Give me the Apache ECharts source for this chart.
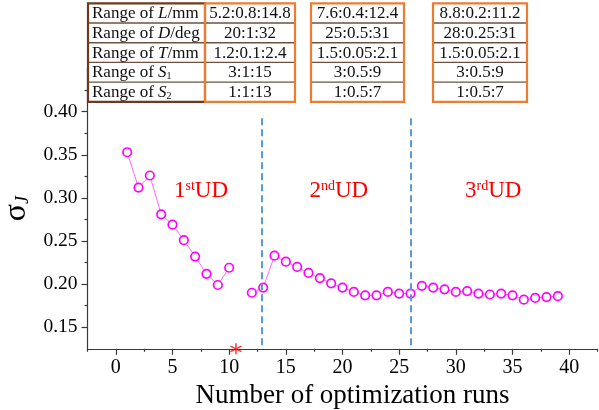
<!DOCTYPE html>
<html>
<head>
<meta charset="utf-8">
<script src="https://cdn.jsdelivr.net/npm/echarts/dist/echarts.min.js"></script>
<style>
  html, body { margin: 0; padding: 0; background: #fff; }
  #chart { width: 599px; height: 410px; }
</style>
</head>
<body>
<div id="chart"></div>
<script>
// optimization run index and sigma_J (run 11 has no point)
const runs = [1, 2, 3, 4, 5, 6, 7, 8, 9, 10,
  12, 13, 14, 15, 16, 17, 18, 19, 20, 21, 22, 23, 24, 25, 26,
  27, 28, 29, 30, 31, 32, 33, 34, 35, 36, 37, 38, 39];
const sigmaJ = [0.353, 0.312, 0.326, 0.281, 0.269, 0.251, 0.232, 0.212, 0.199, 0.219,
  0.190, 0.196, 0.233, 0.226, 0.220, 0.213, 0.207, 0.201, 0.196, 0.191, 0.187, 0.187, 0.191, 0.189, 0.189,
  0.198, 0.196, 0.194, 0.191, 0.192, 0.189, 0.188, 0.189, 0.187, 0.182, 0.184, 0.185, 0.186];

const starMark = [10.6, 0.125];
const dividers = [12.85, 26];
const dashRange = [0.129, 0.396];

const xTicks = [0, 5, 10, 15, 20, 25, 30, 35, 40];
const xMinorTicks = [-2.5, 2.5, 7.5, 12.5, 17.5, 22.5, 27.5, 32.5, 37.5, 42.5];
const yTicks = [0.15, 0.20, 0.25, 0.30, 0.35, 0.40];
const yMinorTicks = [0.175, 0.225, 0.275, 0.325, 0.375, 0.425];

const udLabels = ['1{s|st}UD', '2{s|nd}UD', '3{s|rd}UD'];

const rowLabels = ['Range of {i|L}/mm', 'Range of {i|D}/deg', 'Range of {i|T}/mm',
  'Range of {i|S}{b|1}', 'Range of {i|S}{b|2}'];
const ud1Ranges = ['5.2:0.8:14.8', '20:1:32', '1.2:0.1:2.4', '3:1:15', '1:1:13'];
const ud2Ranges = ['7.6:0.4:12.4', '25:0.5:31', '1.5:0.05:2.1', '3:0.5:9', '1:0.5:7'];
const ud3Ranges = ['8.8:0.2:11.2', '28:0.25:31', '1.5:0.05:2.1', '3:0.5:9', '1:0.5:7'];

const serif = "'Liberation Serif', 'Times New Roman', serif";

// line data, with a gap where a run is missing
const lineData = [];
runs.forEach((r, i) => {
  if (i > 0 && r - runs[i - 1] > 1) lineData.push([runs[i - 1] + 1, '-']);
  lineData.push([r, sigmaJ[i]]);
});

// tables drawn as graphic boxes
const tblTop = 3.3, rowH = 19.7;
const graphic = [];
function box(x0, x1, vals, borderColor, isLabel) {
  graphic.push({
    type: 'rect', z: 100,
    shape: { x: x0, y: tblTop, width: x1 - x0, height: rowH * 5 },
    style: { fill: '#fff', stroke: null }
  });
  for (let i = 1; i < 5; i++) {
    graphic.push({
      type: 'line', z: 101,
      shape: { x1: x0, y1: tblTop + rowH * i, x2: x1, y2: tblTop + rowH * i },
      style: { stroke: '#6e5040', lineWidth: 1.4 }
    });
  }
  vals.forEach((t, i) => {
    graphic.push({
      type: 'text', z: 102,
      style: {
        text: t,
        x: isLabel ? x0 + 4 : (x0 + x1) / 2,
        y: tblTop + rowH * (i + 0.5) + 0.5,
        align: isLabel ? 'left' : 'center',
        verticalAlign: 'middle',
        textAlign: isLabel ? 'left' : 'center',
        textVerticalAlign: 'middle',
        fill: '#111',
        fontSize: 17,
        fontFamily: serif,
        rich: {
          i: { fontSize: 17, fontStyle: 'italic', fontFamily: serif, fill: '#111' },
          b: { fontSize: 10, fontFamily: serif, fill: '#111', verticalAlign: 'bottom', padding: [6, 0, 0, 0] }
        }
      }
    });
  });
  graphic.push({
    type: 'rect', z: 103,
    shape: { x: x0, y: tblTop, width: x1 - x0, height: rowH * 5 },
    style: { fill: null, stroke: borderColor, lineWidth: 2.2 }
  });
}
box(88, 205, rowLabels, '#6b3a1f', true);
box(205, 295, ud1Ranges, '#ec7c30', false);
box(311, 404, ud2Ranges, '#ec7c30', false);
box(433, 527, ud3Ranges, '#ec7c30', false);

const udLeft = [174, 309.5, 465];
udLabels.forEach((t, i) => {
  graphic.push({
    type: 'text', z: 50,
    style: {
      text: t, x: udLeft[i], y: 190.5,
      align: 'left', verticalAlign: 'middle',
      textAlign: 'left', textVerticalAlign: 'middle',
      fill: '#ff0000', fontSize: 23, fontFamily: serif,
      rich: { s: { fontSize: 14, fontFamily: serif, fill: '#ff0000', verticalAlign: 'top' } }
    }
  });
});

const axisColor = '#3a3a3a';
const chart = echarts.init(document.getElementById('chart'), null, { renderer: 'canvas' });
chart.setOption({
  animation: false,
  backgroundColor: '#fff',
  grid: { left: 87.5, right: 1.5, top: 68.6, bottom: 61.2, outerBoundsMode: 'none' },
  xAxis: [{
    type: 'value', min: -2.5, max: 42.5,
    axisLine: { onZero: false, lineStyle: { color: axisColor, width: 1.2 } },
    axisTick: { show: true, customValues: xTicks, length: 6, lineStyle: { color: axisColor, width: 1.2 } },
    axisLabel: { customValues: xTicks, fontSize: 20, fontFamily: serif, color: '#000', margin: 9 },
    splitLine: { show: false },
    name: 'Number of optimization runs',
    nameLocation: 'middle', nameGap: 34,
    nameTextStyle: { fontSize: 27, fontFamily: serif, color: '#000', padding: [0, 0, 0, 20] }
  }, {
    type: 'value', min: -2.5, max: 42.5, position: 'bottom',
    axisLine: { show: false, onZero: false },
    axisTick: { show: true, customValues: xMinorTicks, length: 3, lineStyle: { color: axisColor, width: 1.2 } },
    axisLabel: { show: false },
    splitLine: { show: false }
  }],
  yAxis: [{
    type: 'value', min: 0.125, max: 0.45,
    axisLine: { show: true, onZero: false, lineStyle: { color: axisColor, width: 1.2 } },
    axisTick: { show: true, customValues: yTicks, length: 6, lineStyle: { color: axisColor, width: 1.2 } },
    axisLabel: { customValues: yTicks, fontSize: 19.5, fontFamily: serif, color: '#000', margin: 10,
      formatter: v => v.toFixed(2) },
    splitLine: { show: false },
    name: '{s|σ}{j|J}',
    nameLocation: 'middle', nameGap: 52, nameRotate: 90,
    nameTextStyle: {
      color: '#000',
      rich: {
        s: { fontSize: 32, fontFamily: serif, color: '#000' },
        j: { fontSize: 18, fontFamily: serif, fontStyle: 'italic', color: '#000', verticalAlign: 'bottom' }
      }
    }
  }, {
    type: 'value', min: 0.125, max: 0.45, position: 'left',
    axisLine: { show: false, onZero: false },
    axisTick: { show: true, customValues: yMinorTicks, length: 3, lineStyle: { color: axisColor, width: 1.2 } },
    axisLabel: { show: false },
    splitLine: { show: false }
  }],
  series: [{
    type: 'line',
    data: lineData,
    connectNulls: false,
    symbol: 'circle', symbolSize: 8.5,
    itemStyle: { color: '#fff', borderColor: '#ff00ff', borderWidth: 1.7 },
    lineStyle: { color: '#ff40ff', width: 0.8 },
    markLine: {
      silent: true, symbol: 'none', animation: false,
      label: { show: false },
      lineStyle: { color: '#5b9bd5', width: 2, type: [7, 4] },
      data: dividers.map(x => [{ coord: [x, dashRange[0]] }, { coord: [x, dashRange[1]] }])
    }
  }, {
    type: 'scatter',
    data: [starMark],
    clip: false,
    symbol: 'path://M0,-10L0,10M-8.66,-5L8.66,5M-8.66,5L8.66,-5',
    symbolSize: 11,
    itemStyle: { color: 'none', borderColor: '#ff0000', borderWidth: 1.5 },
    z: 5
  }],
  graphic: graphic
});
</script>
</body>
</html>
